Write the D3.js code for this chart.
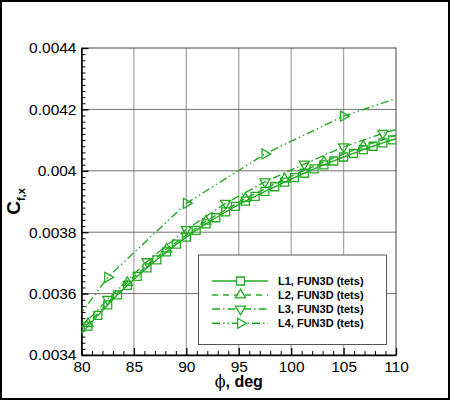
<!DOCTYPE html>
<html>
<head>
<meta charset="utf-8">
<script src="https://cdn.jsdelivr.net/npm/d3@7"></script>
<style>
  body { margin: 0; background: #fff; }
  text { font-family: "Liberation Sans", Arial, sans-serif; }
</style>
</head>
<body>
<div id="chart"></div>
<script>
// values
const xTicks = [80, 85, 90, 95, 100, 105, 110]
const xTickLabels = ["80", "85", "90", "95", "100", "105", "110"]
const yTicks = [0.0034, 0.0036, 0.0038, 0.004, 0.0042, 0.0044]
const yTickLabels = ["0.0034", "0.0036", "0.0038", "0.004", "0.0042", "0.0044"]

const l1Phi = [79.6875, 80.625, 81.5625, 82.5, 83.4375, 84.375, 85.3125, 86.25, 87.1875, 88.125,
  89.0625, 90, 90.9375, 91.875, 92.8125, 93.75, 94.6875, 95.625, 96.5625, 97.5,
  98.4375, 99.375, 100.3125, 101.25, 102.1875, 103.125, 104.0625, 105, 105.9375, 106.875,
  107.8125, 108.75, 109.6875, 110.625]
const l1Cf = [0.003460, 0.003494, 0.003529, 0.003563, 0.003596, 0.003627, 0.003656, 0.003684, 0.003710, 0.003736,
  0.003761, 0.003784, 0.003806, 0.003827, 0.003847, 0.003866, 0.003884, 0.003901, 0.003917, 0.003933,
  0.003948, 0.003963, 0.003978, 0.003992, 0.004006, 0.004019, 0.004032, 0.004045, 0.004057, 0.004069,
  0.004080, 0.004091, 0.004101, 0.004111]

const l2Phi = [76.875, 80.625, 84.375, 88.125, 91.875, 95.625, 99.375, 103.125, 106.875, 110.625]
const l2Cf = [0.003362, 0.003502, 0.003636, 0.003745, 0.003836, 0.003910, 0.003973, 0.004029, 0.004080, 0.004123]

const l3Phi = [78.75, 82.5, 86.25, 90, 93.75, 97.5, 101.25, 105, 108.75, 112.5]
const l3Cf = [0.003446, 0.003581, 0.003704, 0.003809, 0.003894, 0.003964, 0.004022, 0.004078, 0.004122, 0.004160]

const l4Phi = [75, 82.5, 90, 97.5, 105, 112.5]
const l4Cf = [0.003305, 0.003653, 0.003894, 0.004055, 0.004178, 0.004264]

const names = ["L1, FUN3D (tets)", "L2, FUN3D (tets)", "L3, FUN3D (tets)", "L4, FUN3D (tets)"]

const green = "#22aa22"

let width = 450, height = 400
let margin = {top: 48, right: 54, bottom: 45, left: 81.5}

let svg = d3.select("#chart").append("svg")
    .attr("width", width)
    .attr("height", height)

// outer frame
svg.append("rect")
    .attr("x", 1).attr("y", 1)
    .attr("width", width - 2).attr("height", height - 2)
    .attr("fill", "none").attr("stroke", "#000").attr("stroke-width", 2)

let x = d3.scaleLinear().domain([80, 110]).range([margin.left, width - margin.right])
let y = d3.scaleLinear().domain([0.0034, 0.0044]).range([height - margin.bottom, margin.top])

// grid
svg.append("g").selectAll("line").data(xTicks.slice(1, -1)).enter().append("line")
    .attr("x1", d => x(d)).attr("x2", d => x(d))
    .attr("y1", y.range()[0]).attr("y2", y.range()[1])
    .attr("stroke", "#a8a8a8").attr("stroke-width", 1.3)
svg.append("g").selectAll("line").data(yTicks.slice(1, -1)).enter().append("line")
    .attr("x1", x.range()[0]).attr("x2", x.range()[1])
    .attr("y1", d => y(d)).attr("y2", d => y(d))
    .attr("stroke", "#6e6e6e").attr("stroke-width", 1)

// plot frame
svg.append("rect")
    .attr("x", x.range()[0]).attr("y", y.range()[1])
    .attr("width", x.range()[1] - x.range()[0])
    .attr("height", y.range()[0] - y.range()[1])
    .attr("fill", "none").attr("stroke", "#444").attr("stroke-width", 1)

// minor ticks
let xMinor = d3.range(81, 110, 1).filter(d => d % 5 != 0)
let yMinor = d3.range(0, 51).map(i => 0.0034 + i * 0.00002).filter((d, i) => i % 10 != 0)

svg.append("g")
    .attr("transform", `translate(0,${y.range()[0]})`)
    .call(d3.axisBottom(x).tickValues(xMinor).tickFormat("").tickSizeInner(-4).tickSizeOuter(0))
    .call(g => g.select(".domain").remove())
svg.append("g")
    .attr("transform", `translate(${x.range()[0]},0)`)
    .call(d3.axisLeft(y).tickValues(yMinor).tickFormat("").tickSizeInner(-4).tickSizeOuter(0))
    .call(g => g.select(".domain").remove())

// major axes
let xAxis = svg.append("g")
    .attr("transform", `translate(0,${y.range()[0]})`)
    .call(d3.axisBottom(x).tickValues(xTicks).tickFormat((d, i) => xTickLabels[i])
        .tickSizeInner(-7).tickSizeOuter(0).tickPadding(5.5))
let yAxis = svg.append("g")
    .attr("transform", `translate(${x.range()[0]},0)`)
    .call(d3.axisLeft(y).tickValues(yTicks).tickFormat((d, i) => yTickLabels[i])
        .tickSizeInner(-7).tickSizeOuter(0).tickPadding(5))

;[xAxis, yAxis].forEach(a => {
    a.select(".domain").attr("stroke", "#000").attr("stroke-width", 1.5)
    a.selectAll(".tick line").attr("stroke", "#000").attr("stroke-width", 1.3)
    a.selectAll(".tick text").attr("font-size", 15.5).attr("fill", "#000")
        .attr("font-family", "Liberation Sans, Arial, sans-serif")
})

// axis titles
let xt = svg.append("text")
    .attr("x", (x.range()[0] + x.range()[1]) / 2)
    .attr("y", 387)
    .attr("text-anchor", "middle")
    .attr("font-size", 16).attr("font-weight", "bold")
xt.append("tspan").attr("font-family", "DejaVu Serif, serif").attr("font-weight", "normal").text("\u03d5")
xt.append("tspan").text(", deg")

let yt = svg.append("text")
    .attr("transform", `translate(20,${(y.range()[0] + y.range()[1]) / 2}) rotate(-90)`)
    .attr("text-anchor", "middle")
    .attr("font-size", 19).attr("font-weight", "bold")
yt.append("tspan").text("C")
yt.append("tspan").attr("font-size", 11).attr("dy", 5).text("f,x")

// series
let series = [
    {phi: l1Phi, cf: l1Cf, dash: null, symbol: d3.symbolSquare, size: 64, rot: 0},
    {phi: l2Phi, cf: l2Cf, dash: "6,5", symbol: d3.symbolTriangle, size: 44, rot: 0},
    {phi: l3Phi, cf: l3Cf, dash: "8,3,1.5,3", symbol: d3.symbolTriangle, size: 44, rot: 180},
    {phi: l4Phi, cf: l4Cf, dash: "8,3,1.5,3,1.5,3", symbol: d3.symbolTriangle, size: 44, rot: 90}
]

svg.append("clipPath").attr("id", "clip")
    .append("rect")
    .attr("x", x.range()[0]).attr("y", y.range()[1])
    .attr("width", x.range()[1] - x.range()[0])
    .attr("height", y.range()[0] - y.range()[1])

let line = d3.line().x(d => x(d[0])).y(d => y(d[1]))

let plot = svg.append("g").attr("clip-path", "url(#clip)")

series.forEach(s => {
    let pts = s.phi.map((p, i) => [p, s.cf[i]])
    plot.append("path")
        .datum(pts)
        .attr("d", line)
        .attr("fill", "none")
        .attr("stroke", green)
        .attr("stroke-width", 1.4)
        .attr("stroke-dasharray", s.dash)
    plot.selectAll(null)
        .data(pts.filter(d => d[0] >= 80 && d[0] <= 110))
        .enter().append("path")
        .attr("d", d3.symbol().type(s.symbol).size(s.size))
        .attr("transform", d => `translate(${x(d[0])},${y(d[1])}) rotate(${s.rot})`)
        .attr("fill", "none")
        .attr("stroke", green)
        .attr("stroke-width", 1.3)
})

// legend
let legend = svg.append("g")
legend.append("rect")
    .attr("x", 198.5).attr("y", 255)
    .attr("width", 188).attr("height", 89.5)
    .attr("fill", "#fff").attr("stroke", "#555").attr("stroke-width", 1)

let rowY = [281, 295, 309, 323.3]
series.forEach((s, i) => {
    legend.append("line")
        .attr("x1", 212).attr("x2", 268)
        .attr("y1", rowY[i]).attr("y2", rowY[i])
        .attr("stroke", green).attr("stroke-width", 1.4)
        .attr("stroke-dasharray", s.dash)
    legend.append("path")
        .attr("d", d3.symbol().type(s.symbol).size(s.size))
        .attr("transform", `translate(240.5,${rowY[i]}) rotate(${s.rot})`)
        .attr("fill", "#fff")
        .attr("stroke", green).attr("stroke-width", 1.3)
    legend.append("text")
        .attr("x", 278).attr("y", rowY[i] + 4)
        .attr("font-size", 11).attr("font-weight", "bold")
        .text(names[i])
})
</script>
</body>
</html>
